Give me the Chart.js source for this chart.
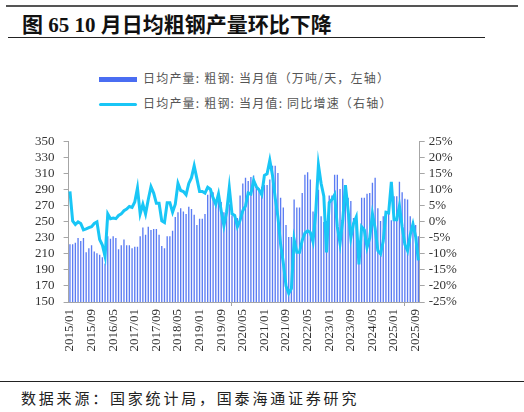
<!DOCTYPE html>
<html>
<head>
<meta charset="utf-8">
<script src="https://cdn.jsdelivr.net/npm/chart.js@4.4.1/dist/chart.umd.min.js"></script>
<style>
  html, body { margin: 0; padding: 0; background: #fff; }
  body { width: 524px; height: 412px; position: relative; overflow: hidden; font-family: "Noto Sans CJK SC", sans-serif; }
  .topRule { position: absolute; left: 6px; top: 5px; width: 512px; height: 2px; background: #555; }
  .title { position: absolute; left: 22px; top: 8px; font: bold 21px "Liberation Serif", "Noto Sans CJK SC"; color: #111; white-space: nowrap; }
  .titleRule { position: absolute; left: 8px; top: 37px; width: 477px; height: 1px; background: #222; }
  .legend { position: absolute; left: 99px; font-size: 12px; color: #555; white-space: nowrap; letter-spacing: 1.2px; }
  .legend .mark { display: inline-block; width: 38px; vertical-align: middle; margin-right: 6px; }
  .srcRule { position: absolute; left: 0; top: 381px; width: 524px; height: 1px; background: #222; }
  .source { position: absolute; left: 21px; top: 387px; font-size: 15px; color: #222; white-space: nowrap; letter-spacing: 2.8px; }
  #wrap { position: absolute; left: 0; top: 125px; width: 524px; height: 240px; }
</style>
</head>
<body>
<div class="topRule"></div>
<div class="title">图 65 10 月日均粗钢产量环比下降</div>
<div class="titleRule"></div>
<div class="legend" style="top:69px"><span class="mark" style="height:5px;background:#4a6df2"></span>日均产量: 粗钢: 当月值（万吨/天，左轴）</div>
<div class="legend" style="top:94px"><span class="mark" style="height:3px;border-radius:2px;background:#19c6f6"></span>日均产量: 粗钢: 当月值: 同比增速（右轴）</div>
<div id="wrap"><canvas id="steelChart"></canvas></div>
<div class="srcRule"></div>
<div class="source">数据来源：国家统计局，国泰海通证券研究</div>

<script>
// months 2015/01 .. 2025/10
const years = ["2015", "2016", "2017", "2018", "2019", "2020", "2021", "2022", "2023", "2024", "2025"];
const months = ["01", "02", "03", "04", "05", "06", "07", "08", "09", "10", "11", "12"];

// daily crude steel output, 万吨/天 (left axis)
const dailyOutput = [
  222, 222, 224, 230, 226, 230, 212, 217, 221, 213, 211, 209,
  206, 198, 232, 229, 232, 230, 216, 221, 228, 221, 221, 217,
  219, 219, 232, 243, 234, 244, 240, 241, 241, 234, 220, 217,
  232, 232, 239, 256, 262, 267, 263, 260, 269, 266, 259, 246,
  254, 254, 260, 284, 290, 287, 277, 282, 275, 262, 266, 272,
  258, 258, 255, 283, 298, 305, 301, 306, 308, 297, 292, 294,
  296, 296, 303, 320, 320, 311, 280, 268, 246, 231, 231, 278,
  268, 268, 286, 309, 312, 303, 263, 270, 290, 257, 250, 251,
  283, 283, 309, 309, 291, 304, 293, 280, 276, 255, 254, 218,
  280, 280, 285, 286, 299, 305, 267, 251, 257, 264, 261, 252,
  282, 282, 300, 287, 279, 278, 257, 251, 246, 232
];

// year-on-year growth, % (right axis)
const yoyGrowth = [
  9.5, 0.3, -0.8, 0, -0.5, -2.5, -2.2, -1.8, -1.5, -0.5, 0, -5.5,
  -7.2, -10.8, 2.5, 1, 1.2, 1, 2, 2.5, 3.5, 4, 4.8, 4.5,
  6.2, 10.6, 2.5, 5.5, 2.5, 7, 11, 9, 5.8, 5.8, 0.3, -0.2,
  6, 6, 3, 5.5, 12, 9.8, 9.5, 8.5, 12, 13.8, 17.5, 13.5,
  9.5, 9.5, 9, 10.8, 10.2, 7.5, 5.5, 8.7, 3.5, -1.2, 3, 10.7,
  2.5, 2, -1.5, 0.5, 3.5, 5, 9, 8.7, 13, 11, 10, 8.5,
  14.5, 15, 19.2, 14.5, 7.5, 1.5, -7, -12.8, -20, -22.3, -20.8, -5.5,
  -9.5, -9.5, -5.8, -3.5, -2.8, -3.3, -6.2, 3, 17.8, 12, 8, -9.5,
  6, 7, 8.5, -1.5, -6.7, 0.5, 11.5, 3.5, -5, -0.5, 1.5, -13.3,
  -1.5, -2.5, -8, -5, 2.5, -2, -9, -10, -6, 3, 2.8, 12.5,
  0.7, 0.7, 5, -1.5, -7, -9, -4, -0.7, -4.6, -12
];

const labels = [];
years.forEach(y => months.forEach(m => labels.push(y + "/" + m)));
labels.length = dailyOutput.length;

const tickFont = { family: "Liberation Serif", size: 13 };
const axisGray = "#a6a6a6";

new Chart(document.getElementById("steelChart").getContext("2d"), {
  data: {
    labels: labels,
    datasets: [
      {
        type: "line",
        label: "日均产量: 粗钢: 当月值: 同比增速（右轴）",
        data: yoyGrowth,
        yAxisID: "yRight",
        borderColor: "#19c6f6",
        borderWidth: 3,
        pointRadius: 0,
        tension: 0,
        order: 0
      },
      {
        type: "bar",
        label: "日均产量: 粗钢: 当月值（万吨/天，左轴）",
        data: dailyOutput,
        yAxisID: "yLeft",
        backgroundColor: "#5b7cf3",
        barPercentage: 0.5,
        categoryPercentage: 1,
        order: 1
      }
    ]
  },
  options: {
    responsive: true,
    maintainAspectRatio: false,
    animation: false,
    layout: { padding: { top: 4 } },
    plugins: {
      legend: { display: false },
      tooltip: { enabled: false }
    },
    scales: {
      x: {
        offset: true,
        grid: {
          offset: true,
          drawOnChartArea: false,
          tickLength: 4,
          color: ctx => (ctx.index % 8 === 0 ? axisGray : "transparent")
        },
        border: { color: axisGray },
        ticks: {
          autoSkip: false,
          minRotation: 90,
          maxRotation: 90,
          padding: 3,
          font: tickFont,
          color: "#333",
          callback: function (value, index) {
            return index % 8 === 0 ? this.getLabelForValue(value) : null;
          }
        },
        afterFit: scale => { scale.height = 63; }
      },
      yLeft: {
        position: "left",
        min: 150,
        max: 350,
        grid: { drawOnChartArea: false, tickLength: 5, color: axisGray },
        border: { color: axisGray },
        ticks: { stepSize: 20, autoSkip: false, padding: 9, font: tickFont, color: "#333" },
        afterFit: scale => { scale.width = 68.6; }
      },
      yRight: {
        position: "right",
        min: -25,
        max: 25,
        grid: { drawOnChartArea: false, tickLength: 5, color: axisGray },
        border: { color: axisGray },
        ticks: { stepSize: 5, autoSkip: false, padding: 4, font: tickFont, color: "#333", callback: v => v + "%" },
        afterFit: scale => { scale.width = 104.3; }
      }
    }
  }
});
</script>
</body>
</html>
